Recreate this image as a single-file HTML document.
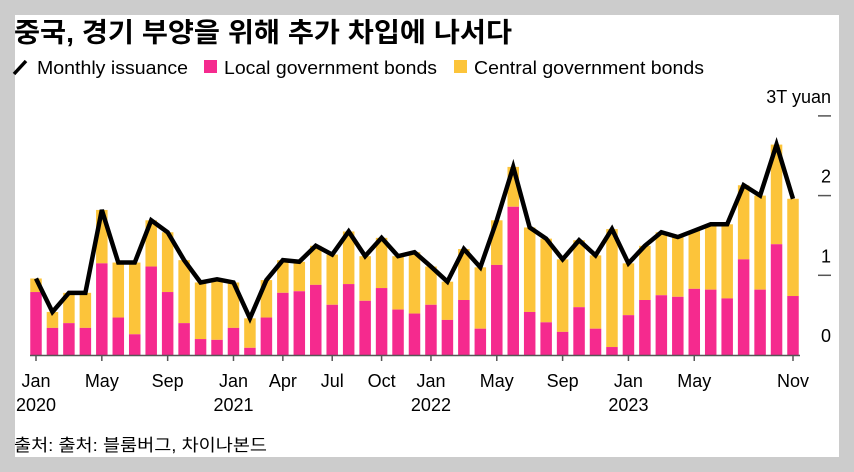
<!DOCTYPE html>
<html><head><meta charset="utf-8">
<style>
html,body{margin:0;padding:0;background:#cccccc;width:854px;height:472px;overflow:hidden;font-family:"Liberation Sans","Noto Sans CJK KR",sans-serif;}
#panel{position:absolute;left:15px;top:15px;width:824px;height:442px;background:#fff;}
svg{position:absolute;left:0;top:0;}
</style></head><body>
<div id="panel"></div>
<svg id="chart" width="854" height="472">
<text x="14" y="42" font-size="27" font-weight="bold" fill="#000" textLength="498" lengthAdjust="spacingAndGlyphs" font-family="Liberation Sans, Noto Sans CJK KR, sans-serif">중국, 경기 부양을 위해 추가 차입에 나서다</text>
<g>
<line x1="14" y1="74" x2="26" y2="61" stroke="#000" stroke-width="3.5"/>
<text x="37" y="74" font-size="18.5" textLength="151" lengthAdjust="spacingAndGlyphs">Monthly issuance</text>
<rect x="204" y="60" width="13" height="13" fill="#f52a8e"/>
<text x="224" y="74" font-size="18.5" textLength="213" lengthAdjust="spacingAndGlyphs">Local government bonds</text>
<rect x="454" y="60" width="13" height="13" fill="#fcc43a"/>
<text x="474" y="74" font-size="18.5" textLength="230" lengthAdjust="spacingAndGlyphs">Central government bonds</text>
</g>
<text x="14" y="451" font-size="17" textLength="253" lengthAdjust="spacingAndGlyphs">출처: 출처: 블룸버그, 차이나본드</text>
</svg>
<script>
const totals=[0.96,0.54,0.78,0.78,1.82,1.16,1.16,1.69,1.54,1.19,0.91,0.95,0.91,0.46,0.94,1.19,1.17,1.37,1.26,1.55,1.24,1.47,1.24,1.29,1.11,0.92,1.33,1.10,1.69,2.36,1.60,1.46,1.20,1.44,1.25,1.58,1.15,1.37,1.54,1.48,1.56,1.64,1.64,2.13,2.00,2.64,1.96];
const locals=[0.79,0.34,0.40,0.34,1.15,0.47,0.26,1.11,0.79,0.40,0.20,0.19,0.34,0.09,0.47,0.78,0.80,0.88,0.63,0.89,0.68,0.84,0.57,0.52,0.63,0.44,0.69,0.33,1.13,1.86,0.54,0.41,0.29,0.60,0.33,0.10,0.50,0.69,0.75,0.73,0.83,0.82,0.71,1.20,0.82,1.39,0.74];
const yTicks=[0,1,2,3];
const yTickLabels=["0","1","2","3T yuan"];
const xTickIdx=[0,4,8,12,15,18,21,24,28,32,36,40,46];
const xTickLabels=["Jan","May","Sep","Jan","Apr","Jul","Oct","Jan","May","Sep","Jan","May","Nov"];
const yearIdx=[0,12,24,36];
const yearLabels=["2020","2021","2022","2023"];

const svg=document.getElementById('chart');
const NS='http://www.w3.org/2000/svg';
const x0=36,x1=793;
const xs=i=>x0+i*(x1-x0)/(totals.length-1);
const ys=v=>355-v*79.7;
function mk(t,a){const e=document.createElementNS(NS,t);for(const k in a)e.setAttribute(k,a[k]);svg.appendChild(e);return e;}
yTicks.forEach((v,i)=>{
  if(v>0){const l=mk('line',{x1:818,x2:831,y1:ys(v),y2:ys(v),stroke:'#555','stroke-width':1.5});
  
  }
  const t=mk('text',{x:831,y:ys(v)-13,'font-size':18,'text-anchor':'end',fill:'#000'});
  t.textContent=yTickLabels[i];
  
  
});
const bw=11.5;
totals.forEach((tot,i)=>{
  const c=mk('rect',{x:xs(i)-bw/2,y:ys(tot),width:bw,height:ys(locals[i])-ys(tot),fill:'#fcc43a'});
  
  
  const l=mk('rect',{x:xs(i)-bw/2,y:ys(locals[i]),width:bw,height:ys(0)-ys(locals[i]),fill:'#f52a8e'});
  
  
});
const ax=mk('line',{x1:30,x2:800,y1:355.5,y2:355.5,stroke:'#555','stroke-width':1.5});


xTickIdx.forEach((idx,k)=>{
  const tl=mk('line',{x1:xs(idx),x2:xs(idx),y1:355,y2:361,stroke:'#555','stroke-width':1.5});
  
  
  const t=mk('text',{x:xs(idx),y:387,'font-size':18,'text-anchor':'middle'});
  t.textContent=xTickLabels[k];
  
  
});
yearIdx.forEach((idx,k)=>{
  const t=mk('text',{x:xs(idx),y:411,'font-size':18,'text-anchor':'middle'});
  t.textContent=yearLabels[k];
  
  
});
const line=mk('polyline',{points:totals.map((v,i)=>xs(i)+','+ys(v)).join(' '),fill:'none',stroke:'#000','stroke-width':4.5,'stroke-linejoin':'miter'});


</script>
</body></html>
